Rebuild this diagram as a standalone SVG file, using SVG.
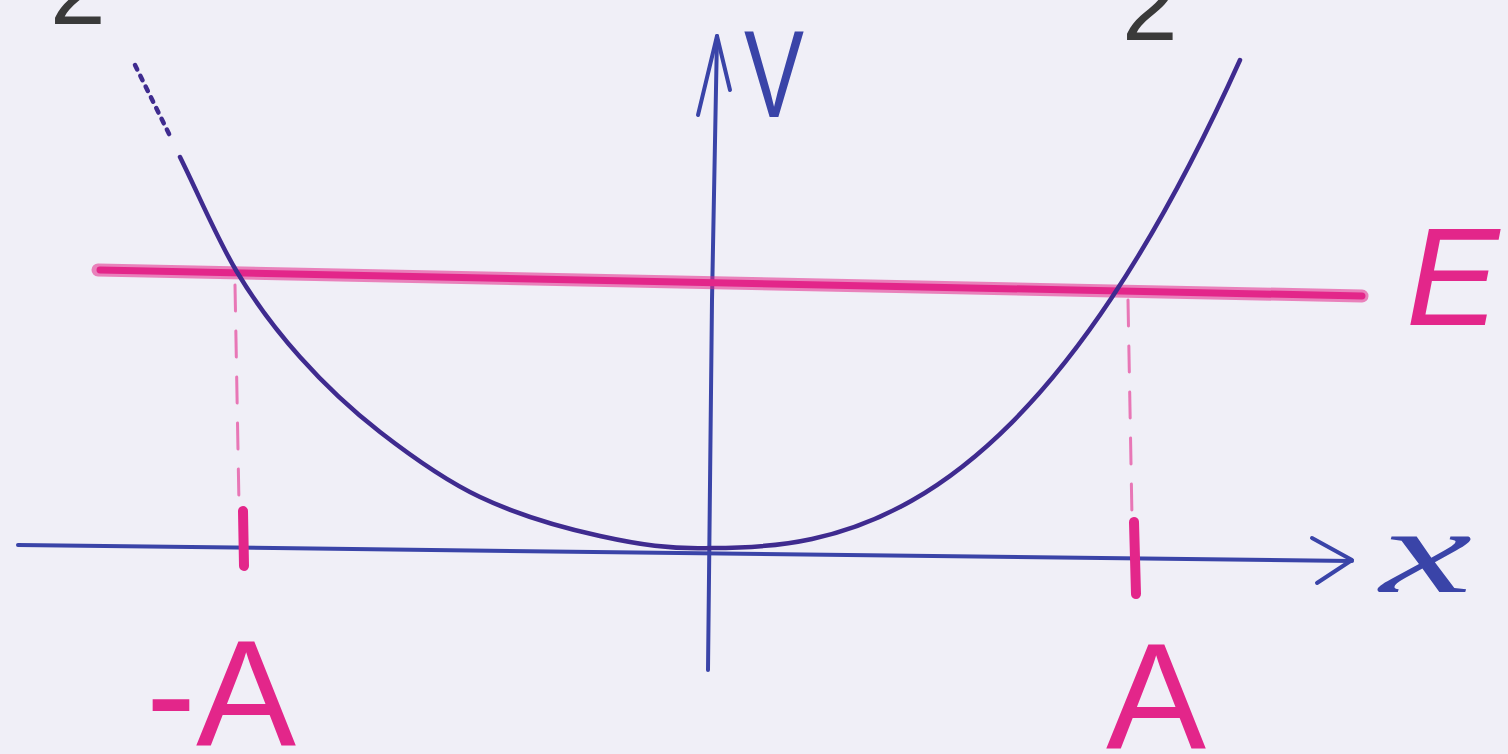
<svg xmlns="http://www.w3.org/2000/svg" width="1508" height="754" viewBox="0 0 1508 754">
  <style>
    .axis { stroke: #3a44a8; stroke-width: 4; fill: none; stroke-linecap: round; stroke-linejoin: round; }
    .curve { stroke: #3f2b8f; stroke-width: 4.5; fill: none; stroke-linecap: round; }
    .pink { stroke: #e3268a; fill: none; stroke-linecap: round; }
    .lblPink { fill: #e3268a; font-family: "Liberation Sans", Arial, sans-serif; }
    .lblBlue { fill: #3a44a8; }
    .lblGray { fill: #3a3a3a; font-family: "Liberation Sans", Arial, sans-serif; }
  </style>
  <rect x="0" y="0" width="1508" height="754" fill="#f0eff7"/>

  <g id="top-marks">
    <text class="lblGray" x="50" y="24" font-size="100">2</text>
    <text class="lblGray" x="1122" y="40" font-size="100">2</text>
  </g>

  <g id="connectors">
    <!-- x axis -->
    <path class="axis" d="M18,545 L1352,561"/>
    <path class="axis" d="M1312,538 L1352,560 L1317,583"/>
    <!-- V axis -->
    <path class="axis" d="M708,670 L712,300 L717,36"/>
    <path class="axis" d="M698,115 L717,36 L730,90"/>
  </g>

  <g id="energy-line">
    <path class="pink" stroke-width="13" stroke-opacity="0.55" d="M98,270 L1362,296"/>
    <path class="pink" stroke-width="7" d="M100,270 L1362,296"/>
  </g>

  <g id="potential-curve">
    <path class="curve" stroke-dasharray="5 7" d="M135,65 L172,140"/>
    <path class="curve" d="M180,157 C199,195.3 217,238.7 237,272 C257,305.3 276.2,330.3 300,357 C323.8,383.7 350,408.7 380,432 C410,455.3 443.3,479.7 480,497 C516.7,514.3 561.3,527.5 600,536 C638.7,544.5 670.3,549.5 712,548 C745.3,548 778.7,546.2 812,539 C845.3,531.8 878.7,519.5 912,500.5 C945.3,481.5 978.7,455.8 1012,422.3 C1045.3,388.8 1078.7,347.5 1112,297.3 C1154.7,233 1197.3,154.8 1240,60"/>
  </g>

  <g id="turning-points">
    <path class="pink" stroke-width="3" stroke-opacity="0.6" stroke-dasharray="26 20" d="M235,285 L239,505"/>
    <path class="pink" stroke-width="3" stroke-opacity="0.6" stroke-dasharray="26 20" d="M1128,300 L1132,518"/>
    <path class="pink" stroke-width="10" d="M243,511 L244,566"/>
    <path class="pink" stroke-width="10" d="M1134,522 L1136,594"/>
  </g>

  <g id="labels">
    <text class="lblBlue" x="744" y="117" font-size="124" font-family="Liberation Sans, Arial, sans-serif" textLength="60" lengthAdjust="spacingAndGlyphs">V</text>
    <text class="lblBlue" x="1380" y="592" font-size="120" font-style="italic" font-family="Liberation Serif, Times New Roman, serif" textLength="92" lengthAdjust="spacingAndGlyphs">x</text>
    <text class="lblPink" x="1406" y="325" font-size="140" font-style="italic">E</text>
    <text class="lblPink" x="146" y="745" font-size="150">-A</text>
    <text class="lblPink" x="1106" y="748" font-size="150">A</text>
  </g>
</svg>
